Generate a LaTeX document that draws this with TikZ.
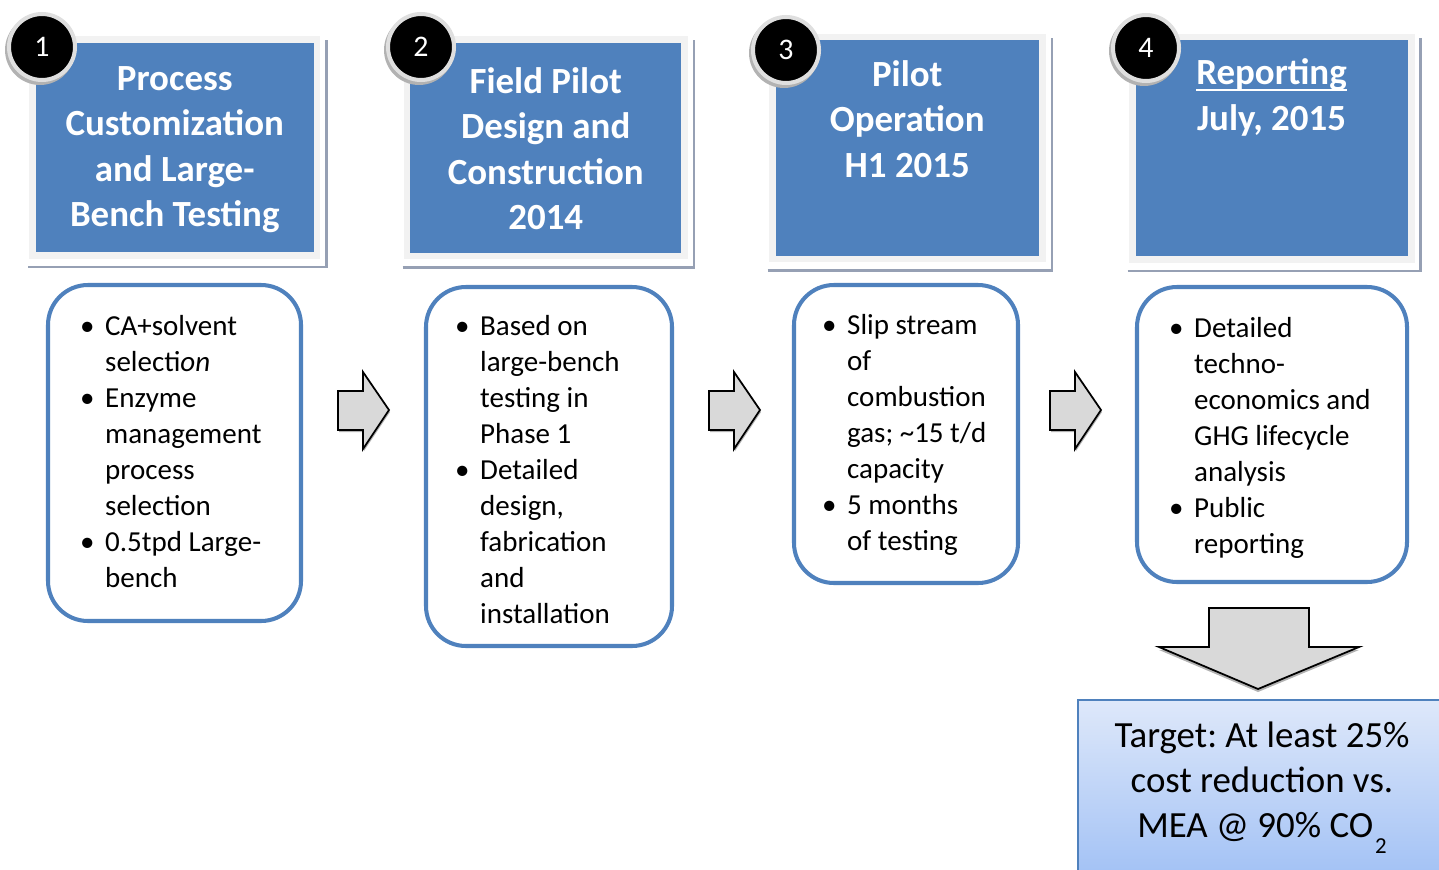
\documentclass[tikz,border=0pt]{standalone}
\usepackage{fontspec}
\setmainfont{Carlito}
\usepackage{xcolor}
\usepackage{tikz}
\usetikzlibrary{calc, fit}
\definecolor{cHead}{RGB}{79,129,189}
\definecolor{cFrame}{RGB}{242,242,242}
\definecolor{cShade}{RGB}{150,160,180}
\definecolor{cArrow}{RGB}{217,217,217}
\definecolor{cTgtTop}{RGB}{222,232,250}
\definecolor{cTgtBot}{RGB}{163,194,245}
\newcommand{\bul}{\makebox[20.4pt][c]{\textbullet}}
\newcommand{\ind}{\hspace*{20.4pt}}
\newcommand{\ulhead}[1]{\setbox0\hbox{#1}\rlap{\copy0}\rule[-3.6pt]{\wd0}{1.3pt}}
\frenchspacing

\begin{document}
\begin{tikzpicture}[x=0.02cm, y=-0.02cm,
	hdr/.style={rectangle, fill=cHead, draw=cFrame, line width=3.97pt, inner sep=0pt},
	hdrshadow/.style={cShade, line width=1.5pt},
	hdrtitle/.style={text=white, align=center, inner sep=0pt, font=\fontsize{21}{25.9}\selectfont\bfseries},
	numdot/.style={circle, fill=black, draw=gray!25, line width=2.3pt, minimum size=1.32cm, inner sep=0pt, text=white, font=\fontsize{17}{17}\selectfont},
	stepbox/.style={rectangle, draw=cHead, line width=2.3pt, rounded corners=0.8cm, fill=white, inner sep=0pt},
	blist/.style={anchor=west, align=left, inner sep=0pt, font=\fontsize{16.5}{20.5}\selectfont},
	blockarrow/.style={fill=cArrow, draw=black, line width=1pt, line join=miter},
	goalbox/.style={rectangle, top color=cTgtTop, bottom color=cTgtBot, draw=cHead, line width=1.2pt, inner sep=0pt},
	goaltext/.style={align=center, inner sep=0pt, font=\fontsize{21}{25.6}\selectfont}]
	\useasboundingbox (0,0) rectangle (1439,869);
	\clip (0,0) rectangle (1439,869);

	% phase headers
	\node[hdr, fit={(32.5,39.5) (317,255.5)}] (h1) {};
	\node[hdr, fit={(407,39.5) (684.5,256)}] (h2) {};
	\node[hdr, fit={(772,37) (1042.5,259)}] (h3) {};
	\node[hdr, fit={(1132,37) (1411,259.5)}] (h4) {};
	\foreach \n in {1,...,4}
		\draw[hdrshadow] ($(h\n.south west)+(-1,8)$) -- ($(h\n.south east)+(6,8)$) -- ($(h\n.north east)+(6,4)$);

	\node[hdrtitle] (t1) at ($(h1.center)+(0,2)$) {Process\\Customization\\and Large-\\Bench Testing};
	\node[hdrtitle] (t2) at ($(h2.center)+(0,1)$) {Field Pilot\\Design and\\Construction\\2014};
	\node[hdrtitle] (t3) at ($(h3.north)+(0,85.5)$) {Pilot\\Operation\\H1 2015};
	\node[hdrtitle] (t4) at ($(h4.north)+(0,64)$) {\ulhead{Reporting}\\July, 2015};

	% numbered discs
	\foreach \k/\cx/\cy in {1/42/47, 2/421/47, 3/786/50, 4/1146/48} {
		\fill[gray!60] (\cx-2,\cy+3) circle (0.7cm);
		\node[numdot] (n\k) at (\cx,\cy) {\k};
	}

	% detail boxes
	\node[stepbox, fit={(48,285) (301,621)}] (d1) {};
	\node[stepbox, fit={(426,287) (672,646)}] (d2) {};
	\node[stepbox, fit={(794,285) (1018,583)}] (d3) {};
	\node[stepbox, fit={(1137,287) (1407,582)}] (d4) {};

	\node[blist] (l1) at (69,451.5) {\bul CA+solvent\\\ind selecti\textit{on}\\\bul Enzyme\\\ind management\\\ind process\\\ind selection\\\bul 0.5tpd Large-\\\ind bench};
	\node[blist] (l2) at (444,469.5) {\bul Based on\\\ind large-bench\\\ind testing in\\\ind Phase 1\\\bul Detailed\\\ind design,\\\ind fabrication\\\ind and\\\ind installation};
	\node[blist] (l3) at (811,434.5) {\bul Slip stream\\\ind of\\\ind combustion\\\ind gas; \textasciitilde15 t/d\\\ind capacity\\\bul 5 months\\\ind of testing};
	\node[blist] (l4) at (1158,438) {\bul Detailed\\\ind techno-\\\ind economics and\\\ind GHG lifecycle\\\ind analysis\\\bul Public\\\ind reporting};

	% block arrows
	\foreach \ax in {338,709,1050} {
		\fill[gray!60] (\ax+1,393) -- (\ax+26,393) -- (\ax+26,374) -- (\ax+52,412) -- (\ax+26,451) -- (\ax+26,432) -- (\ax+1,432) -- cycle;
		\draw[blockarrow] (\ax,391) -- (\ax+25,391) -- (\ax+25,372) -- (\ax+51,410) -- (\ax+25,449) -- (\ax+25,430) -- (\ax,430) -- cycle;
	}
	\fill[gray!60] (1209,611) -- (1309,611) -- (1309,650) -- (1359,650) -- (1258,692) -- (1159,650) -- (1209,650) -- cycle;
	\draw[blockarrow] (1209,608) -- (1309,608) -- (1309,647) -- (1359,647) -- (1258,689) -- (1159,647) -- (1209,647) -- cycle;

	% target
	\node[goalbox, fit={(1078,700) (1445,875)}] (g) {};
	\node[goaltext] (gt) at (1262,782) {Target: At least 25\%\\cost reduction vs.\\MEA @ 90\% CO\kern1pt\raisebox{-9pt}[0pt][0pt]{\fontsize{13}{13}\selectfont 2}};
\end{tikzpicture}
\end{document}
